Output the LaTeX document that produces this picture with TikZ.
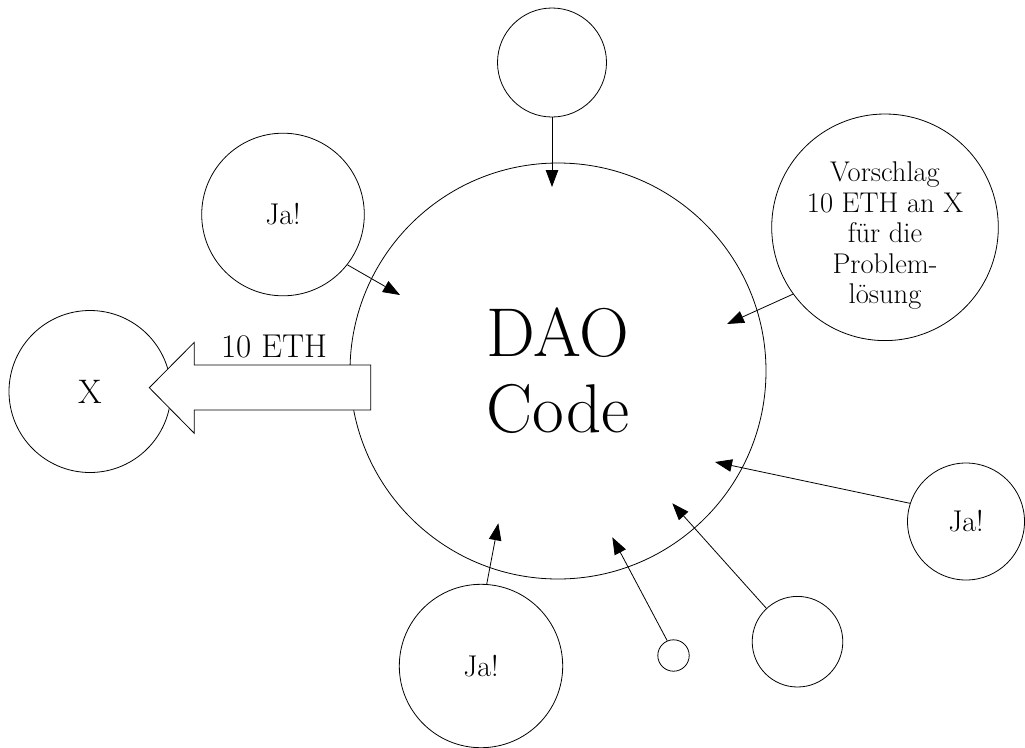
\documentclass[tikz,border=0pt]{standalone}
\usetikzlibrary{arrows.meta}
\begin{document}
\begin{tikzpicture}[x=1pt,y=-1pt, line width=0.8pt,
  circ/.style={draw, circle, inner sep=0pt},
  arr/.style={-{Triangle[length=17pt,width=12.5pt]}},
  jafont/.style={font=\fontsize{30}{36}\selectfont}]
\useasboundingbox (0,0) rectangle (1025,747);
% main circle
\node[circ, minimum size=416pt, align=center, font=\fontsize{69}{76}\selectfont] (dao) at (558,371) {DAO\\Code};
% satellites
\node[circ, minimum size=109pt] (top) at (552,62.5) {};
\node[circ, minimum size=226.6pt] (vor) at (885,227.3) {};
\node[font=\fontsize{28.5}{30.5}\selectfont, align=center] (vortext) at (885,236) {Vorschlag\\10 ETH an X\\für die\\Problem-\\lösung};
\node[circ, minimum size=162.6pt, jafont] (ja1) at (283,214.5) {Ja!};
\node[circ, minimum size=162pt, font=\fontsize{34}{40}\selectfont] (x) at (90,391.5) {X};
\node[circ, minimum size=117pt, jafont] (ja2) at (966,521.5) {Ja!};
\node[circ, minimum size=163.4pt, jafont] (ja3) at (481,666) {Ja!};
\node[circ, minimum size=31.4pt] (small) at (673.5,655.5) {};
\node[circ, minimum size=90.6pt] (br) at (797.5,641.7) {};
% big transfer arrow
\coordinate (aTip) at (149.3,387.7);
\draw[fill=white] (aTip) -- (194.3,342.3) -- (194.3,365) -- (370.7,365) -- (370.7,410) -- (194.3,410) -- (194.3,433.3) -- cycle;
\node[font=\fontsize{33}{38}\selectfont, anchor=base] (eth) at (274,357.7) {10 ETH};
% arrow tips
\coordinate (tTop) at (552,187);
\coordinate (tVor) at (727,324);
\coordinate (tJa1) at (400,295);
\coordinate (tJa2) at (715,462);
\coordinate (tJa3) at (498.3,523.3);
\coordinate (tSmall) at (612.3,537.3);
\coordinate (tBr) at (672.3,503.3);
% connectors
\draw[arr] (top.south) -- (tTop);
\draw[arr] (vor.216) -- (tVor);
\draw[arr] (ja1.322) -- (tJa1);
\draw[arr] (ja2.162) -- (tJa2);
\draw[arr] (ja3.86) -- (tJa3);
\draw[arr] (small.113) -- (tSmall);
\draw[arr] (br.133) -- (tBr);
\end{tikzpicture}
\end{document}
